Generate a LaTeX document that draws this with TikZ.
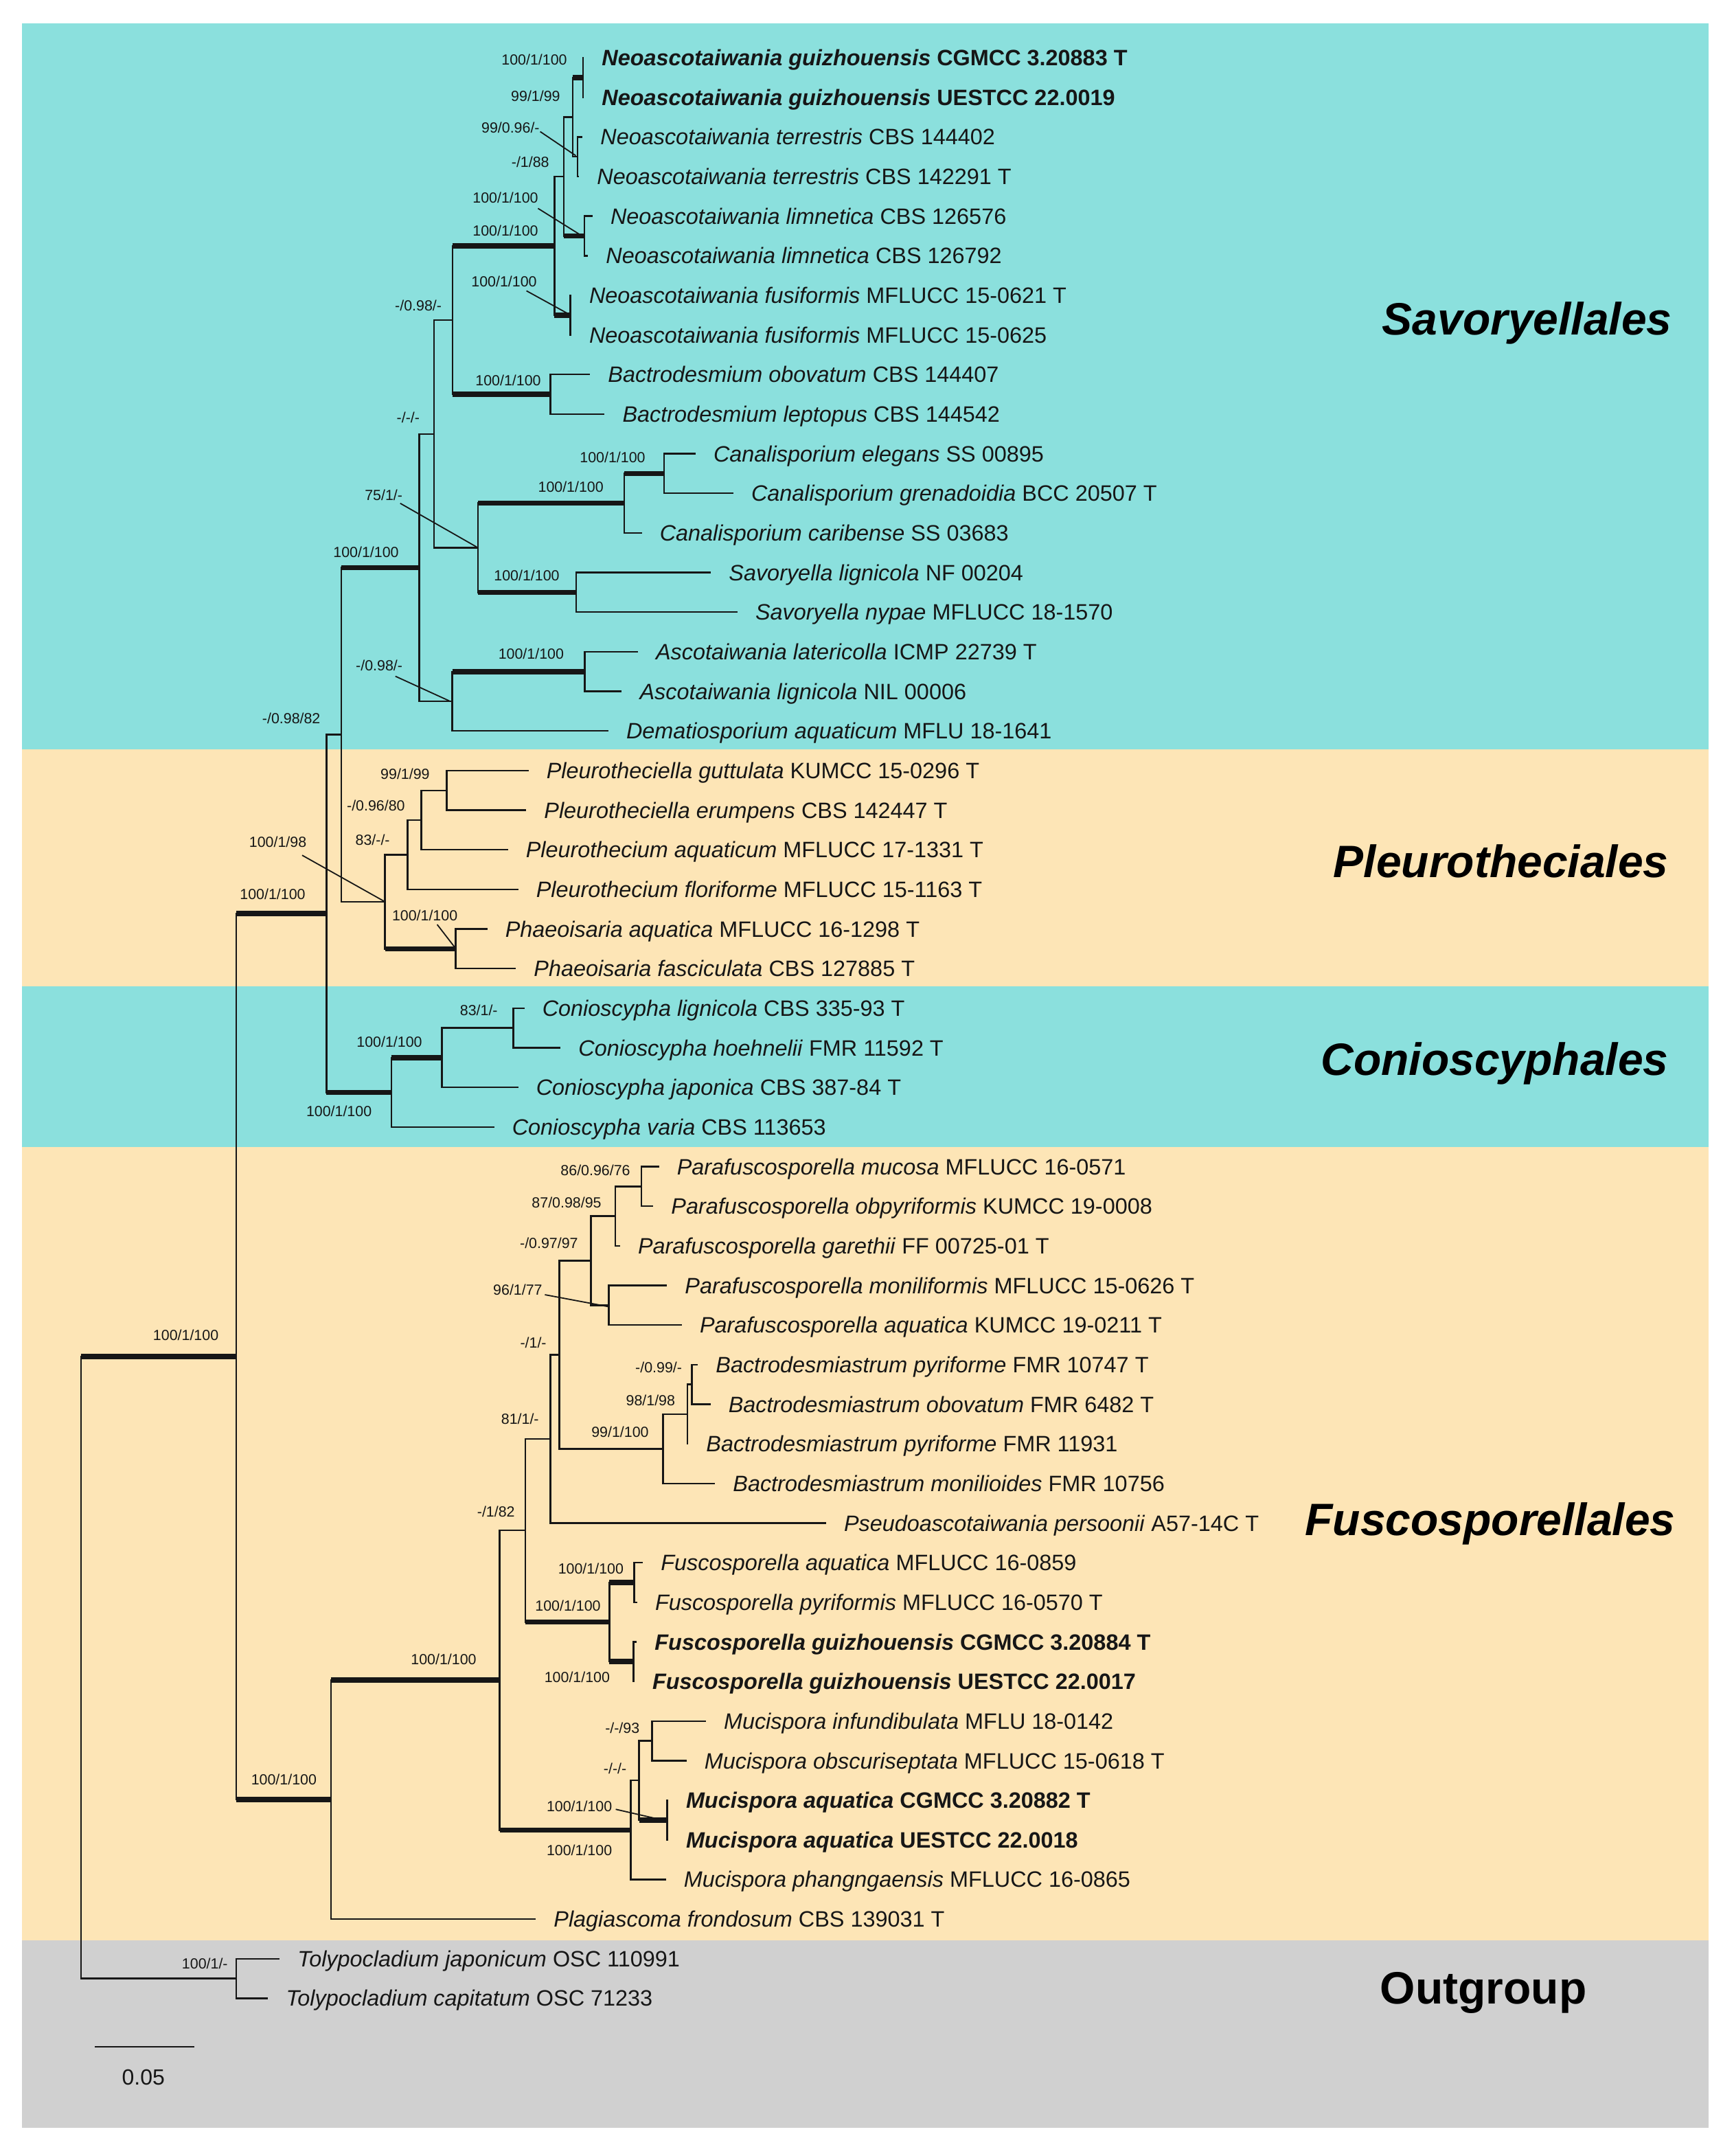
\documentclass[tikz,border=0pt]{standalone}
\usepackage{fontspec}
\setmainfont{Liberation Sans}
\definecolor{bgteal}{RGB}{139,224,221}
\definecolor{bgorange}{RGB}{253,229,182}
\definecolor{bggrey}{RGB}{208,208,208}
\definecolor{ink}{RGB}{22,22,22}
\newcommand{\cbar}[3]{\draw[tb] (#1 |- #2) -- (#1 |- #3);}
\newcommand{\hbr}[3][tb]{\draw[#1] (#2 |- #3) -- (#3);}
\newcommand{\pair}[3]{\cbar{#1}{#2}{#3}\hbr{#1}{#2}\hbr{#1}{#3}}
\newcommand{\mytip}[4]{\coordinate (tp#1) at (#2,#3); \node[taxon] (tx#1) at ([xshift=13.5pt,yshift=-5.8pt]tp#1) {#4};}
\newcommand{\bs}[4]{\node[suplab] (#1) at (#2,#3) {#4};}
\begin{document}
\begin{tikzpicture}[x=1pt,y=-1pt,
  tb/.style={draw=ink,line width=1.2pt,line cap=rect},
  kb/.style={draw=ink,line width=3.8pt},
  ldr/.style={draw=ink,line width=0.9pt},
  taxon/.style={font=\fontsize{16.2}{19}\selectfont,text=ink,inner sep=0pt,anchor=base west},
  suplab/.style={font=\fontsize{10.7}{12}\selectfont,text=ink,inner sep=0pt,anchor=base east},
  ord/.style={font=\fontsize{33}{38}\selectfont\bfseries,text=black,inner sep=0pt,anchor=base east}]
\useasboundingbox (0,0) rectangle (1262,1569.5);
\fill[white] (0,0) rectangle (1262,1569.5);
% background bands
\fill[bgteal] (16,17) rectangle (1244,545.5);
\fill[bgorange] (16,545.5) rectangle (1244,718);
\fill[bgteal] (16,718) rectangle (1244,835);
\fill[bgorange] (16,835) rectangle (1244,1412.5);
\fill[bggrey] (16,1412.5) rectangle (1244,1549);

% tips and taxon names
\mytip{1}{424.5}{42.00}{\textbf{\textit{Neoascotaiwania guizhouensis} CGMCC 3.20883 T}}
\mytip{2}{424.5}{70.83}{\textbf{\textit{Neoascotaiwania guizhouensis} UESTCC 22.0019}}
\mytip{3}{423.5}{99.66}{\textit{Neoascotaiwania terrestris} CBS 144402}
\mytip{4}{421.0}{128.49}{\textit{Neoascotaiwania terrestris} CBS 142291 T}
\mytip{5}{430.8}{157.32}{\textit{Neoascotaiwania limnetica} CBS 126576}
\mytip{6}{427.5}{186.15}{\textit{Neoascotaiwania limnetica} CBS 126792}
\mytip{7}{415.3}{214.98}{\textit{Neoascotaiwania fusiformis} MFLUCC 15-0621 T}
\mytip{8}{415.3}{243.81}{\textit{Neoascotaiwania fusiformis} MFLUCC 15-0625}
\mytip{9}{429.0}{272.64}{\textit{Bactrodesmium obovatum} CBS 144407}
\mytip{10}{439.6}{301.47}{\textit{Bactrodesmium leptopus} CBS 144542}
\mytip{11}{505.8}{330.30}{\textit{Canalisporium elegans} SS 00895}
\mytip{12}{533.3}{359.13}{\textit{Canalisporium grenadoidia} BCC 20507 T}
\mytip{13}{466.7}{387.96}{\textit{Canalisporium caribense} SS 03683}
\mytip{14}{517.0}{416.79}{\textit{Savoryella lignicola} NF 00204}
\mytip{15}{536.3}{445.62}{\textit{Savoryella nypae} MFLUCC 18-1570}
\mytip{16}{463.8}{474.45}{\textit{Ascotaiwania latericolla} ICMP 22739 T}
\mytip{17}{452.1}{503.28}{\textit{Ascotaiwania lignicola} NIL 00006}
\mytip{18}{442.3}{532.11}{\textit{Dematiosporium aquaticum} MFLU 18-1641}
\mytip{19}{384.2}{560.94}{\textit{Pleurotheciella guttulata} KUMCC 15-0296 T}
\mytip{20}{382.5}{589.77}{\textit{Pleurotheciella erumpens} CBS 142447 T}
\mytip{21}{369.2}{618.60}{\textit{Pleurothecium aquaticum} MFLUCC 17-1331 T}
\mytip{22}{376.7}{647.43}{\textit{Pleurothecium floriforme} MFLUCC 15-1163 T}
\mytip{23}{354.2}{676.26}{\textit{Phaeoisaria aquatica} MFLUCC 16-1298 T}
\mytip{24}{375.0}{705.09}{\textit{Phaeoisaria fasciculata} CBS 127885 T}
\mytip{25}{381.2}{733.92}{\textit{Conioscypha lignicola} CBS 335-93 T}
\mytip{26}{407.5}{762.75}{\textit{Conioscypha hoehnelii} FMR 11592 T}
\mytip{27}{376.7}{791.58}{\textit{Conioscypha japonica} CBS 387-84 T}
\mytip{28}{359.2}{820.41}{\textit{Conioscypha varia} CBS 113653}
\mytip{29}{479.2}{849.24}{\textit{Parafuscosporella mucosa} MFLUCC 16-0571}
\mytip{30}{475.0}{878.07}{\textit{Parafuscosporella obpyriformis} KUMCC 19-0008}
\mytip{31}{450.8}{906.90}{\textit{Parafuscosporella garethii} FF 00725-01 T}
\mytip{32}{485.0}{935.73}{\textit{Parafuscosporella moniliformis} MFLUCC 15-0626 T}
\mytip{33}{495.8}{964.56}{\textit{Parafuscosporella aquatica} KUMCC 19-0211 T}
\mytip{34}{507.5}{993.39}{\textit{Bactrodesmiastrum pyriforme} FMR 10747 T}
\mytip{35}{516.7}{1022.22}{\textit{Bactrodesmiastrum obovatum} FMR 6482 T}
\mytip{36}{500.5}{1051.05}{\textit{Bactrodesmiastrum pyriforme} FMR 11931}
\mytip{37}{520.0}{1079.88}{\textit{Bactrodesmiastrum monilioides} FMR 10756}
\mytip{38}{600.8}{1108.71}{\textit{Pseudoascotaiwania persoonii} A57-14C T}
\mytip{39}{467.5}{1137.54}{\textit{Fuscosporella aquatica} MFLUCC 16-0859}
\mytip{40}{463.3}{1166.37}{\textit{Fuscosporella pyriformis} MFLUCC 16-0570 T}
\mytip{41}{463.0}{1195.20}{\textbf{\textit{Fuscosporella guizhouensis} CGMCC 3.20884 T}}
\mytip{42}{461.3}{1224.03}{\textbf{\textit{Fuscosporella guizhouensis} UESTCC 22.0017}}
\mytip{43}{513.3}{1252.86}{\textit{Mucispora infundibulata} MFLU 18-0142}
\mytip{44}{499.2}{1281.69}{\textit{Mucispora obscuriseptata} MFLUCC 15-0618 T}
\mytip{45}{485.8}{1310.52}{\textbf{\textit{Mucispora aquatica} CGMCC 3.20882 T}}
\mytip{46}{485.8}{1339.35}{\textbf{\textit{Mucispora aquatica} UESTCC 22.0018}}
\mytip{47}{484.2}{1368.18}{\textit{Mucispora phangngaensis} MFLUCC 16-0865}
\mytip{48}{389.5}{1397.01}{\textit{Plagiascoma frondosum} CBS 139031 T}
\mytip{49}{203.0}{1425.84}{\textit{Tolypocladium japonicum} OSC 110991}
\mytip{50}{194.6}{1454.67}{\textit{Tolypocladium capitatum} OSC 71233}

% internal nodes
\coordinate (r) at (58.9,1213.9);
\coordinate (o) at (172,987.535);
\coordinate (u) at (172,1440.255);
\coordinate (n) at (237.7,665.0);
\coordinate (k) at (248.5,534.815);
\coordinate (s) at (241.1,1310.07);
\coordinate (t) at (363.8,1223.13);
\coordinate (sf) at (305.2,413.19);
\coordinate (se) at (315.9,315.885);
\coordinate (sd) at (329.5,233.0);
\coordinate (sc) at (403.7,178.94);
\coordinate (sb) at (410.5,128.49);
\coordinate (sa) at (417,85.245);
\coordinate (sguiz) at (424.5,56.415);
\coordinate (sterr) at (420.5,114.075);
\coordinate (slimn) at (425.5,171.735);
\coordinate (sfusi) at (415.3,229.395);
\coordinate (sbac) at (400.7,287.055);
\coordinate (sg) at (348,398.77);
\coordinate (sh) at (454.5,366.34);
\coordinate (si) at (483.4,344.715);
\coordinate (sj) at (419.5,431.205);
\coordinate (sm) at (329.3,510.49);
\coordinate (sl) at (425.7,488.865);
\coordinate (p1) at (325.3,575.355);
\coordinate (p2) at (306.7,596.98);
\coordinate (p3) at (296.7,622.205);
\coordinate (p4) at (280.3,656.44);
\coordinate (p5) at (331.7,690.675);
\coordinate (c1) at (285,795.185);
\coordinate (c2) at (321.7,769.96);
\coordinate (c3) at (373.7,748.335);
\coordinate (q1) at (467,863.655);
\coordinate (q2) at (448,885.28);
\coordinate (q3) at (430.3,917.71);
\coordinate (q4) at (443.3,950.145);
\coordinate (q5) at (407.2,986.18);
\coordinate (q6) at (400.8,1047.445);
\coordinate (q7) at (382.5,1114.115);
\coordinate (b1) at (503.7,1007.805);
\coordinate (b2) at (500.5,1029.43);
\coordinate (b3) at (482.8,1054.655);
\coordinate (f1) at (443.7,1180.785);
\coordinate (f2) at (461.7,1151.955);
\coordinate (f3) at (461.3,1209.615);
\coordinate (m1) at (459.2,1332.14);
\coordinate (m2) at (465.3,1296.105);
\coordinate (m3) at (474.7,1267.275);
\coordinate (m4) at (485.8,1324.935);

% branches
\cbar{r}{o}{u} \hbr[kb]{r}{o} \hbr{r}{u}
\pair{u}{tp49}{tp50}
\cbar{o}{n}{s} \hbr[kb]{o}{n} \hbr[kb]{o}{s}
\cbar{n}{k}{c1} \hbr{n}{k} \hbr[kb]{n}{c1}
\cbar{k}{sf}{p4} \hbr[kb]{k}{sf} \hbr{k}{p4}
\cbar{sf}{se}{sm} \hbr{sf}{se} \hbr{sf}{sm}
\cbar{se}{sd}{sg} \hbr{se}{sd} \hbr{se}{sg}
\cbar{sd}{sc}{sbac} \hbr[kb]{sd}{sc} \hbr[kb]{sd}{sbac}
\cbar{sc}{sb}{sfusi} \hbr{sc}{sb} \hbr[kb]{sc}{sfusi}
\cbar{sb}{sa}{slimn} \hbr{sb}{sa} \hbr[kb]{sb}{slimn}
\cbar{sa}{sguiz}{sterr} \hbr[kb]{sa}{sguiz} \hbr{sa}{sterr}
\pair{sguiz}{tp1}{tp2}
\pair{sterr}{tp3}{tp4}
\pair{slimn}{tp5}{tp6}
\pair{sfusi}{tp7}{tp8}
\pair{sbac}{tp9}{tp10}
\cbar{sg}{sh}{sj} \hbr[kb]{sg}{sh} \hbr[kb]{sg}{sj}
\cbar{sh}{si}{tp13} \hbr[kb]{sh}{si} \hbr{sh}{tp13}
\pair{si}{tp11}{tp12}
\pair{sj}{tp14}{tp15}
\cbar{sm}{sl}{tp18} \hbr[kb]{sm}{sl} \hbr{sm}{tp18}
\pair{sl}{tp16}{tp17}
\cbar{p4}{p3}{p5} \hbr{p4}{p3} \hbr[kb]{p4}{p5}
\cbar{p3}{p2}{tp22} \hbr{p3}{p2} \hbr{p3}{tp22}
\cbar{p2}{p1}{tp21} \hbr{p2}{p1} \hbr{p2}{tp21}
\pair{p1}{tp19}{tp20}
\pair{p5}{tp23}{tp24}
\cbar{c1}{c2}{tp28} \hbr[kb]{c1}{c2} \hbr{c1}{tp28}
\cbar{c2}{c3}{tp27} \hbr{c2}{c3} \hbr{c2}{tp27}
\pair{c3}{tp25}{tp26}
\cbar{s}{t}{tp48} \hbr[kb]{s}{t} \hbr{s}{tp48}
\cbar{t}{q7}{m1} \hbr{t}{q7} \hbr[kb]{t}{m1}
\cbar{q7}{q6}{f1} \hbr{q7}{q6} \hbr[kb]{q7}{f1}
\cbar{q6}{q5}{tp38} \hbr{q6}{q5} \hbr{q6}{tp38}
\cbar{q5}{q3}{b3} \hbr{q5}{q3} \hbr{q5}{b3}
\cbar{q3}{q2}{q4} \hbr{q3}{q2} \hbr{q3}{q4}
\cbar{q2}{q1}{tp31} \hbr{q2}{q1} \hbr{q2}{tp31}
\pair{q1}{tp29}{tp30}
\pair{q4}{tp32}{tp33}
\cbar{b3}{b2}{tp37} \hbr{b3}{b2} \hbr{b3}{tp37}
\cbar{b2}{b1}{tp36} \hbr{b2}{b1} \hbr{b2}{tp36}
\pair{b1}{tp34}{tp35}
\cbar{f1}{f2}{f3} \hbr[kb]{f1}{f2} \hbr[kb]{f1}{f3}
\pair{f2}{tp39}{tp40}
\pair{f3}{tp41}{tp42}
\cbar{m1}{m2}{tp47} \hbr{m1}{m2} \hbr{m1}{tp47}
\cbar{m2}{m3}{m4} \hbr{m2}{m3} \hbr[kb]{m2}{m4}
\pair{m3}{tp43}{tp44}
\pair{m4}{tp45}{tp46}

% support values
\bs{l1}{413}{47.4}{100/1/100}
\bs{l2}{408}{73.9}{99/1/99}
\bs{l3}{393}{96.9}{99/0.96/-}
\bs{l4}{400}{121.9}{-/1/88}
\bs{l5}{392}{147.9}{100/1/100}
\bs{l6}{392}{171.9}{100/1/100}
\bs{l7}{391}{208.9}{100/1/100}
\bs{l8}{321.7}{226.4}{-/0.98/-}
\bs{l9}{394}{280.7}{100/1/100}
\bs{l10}{305.7}{307.9}{-/-/-}
\bs{l11}{470}{336.8}{100/1/100}
\bs{l12}{439.6}{358.2}{100/1/100}
\bs{l13}{293.2}{364.1}{75/1/-}
\bs{l14}{290.5}{405.9}{100/1/100}
\bs{l15}{407.5}{422.9}{100/1/100}
\bs{l16}{410.7}{479.9}{100/1/100}
\bs{l17}{293.2}{488.2}{-/0.98/-}
\bs{l18}{233.4}{526.6}{-/0.98/82}
\bs{l19}{313}{567.2}{99/1/99}
\bs{l20}{295}{590.2}{-/0.96/80}
\bs{l21}{284}{615.1}{83/-/-}
\bs{l22}{223.3}{616.6}{100/1/98}
\bs{l23}{333.3}{670.2}{100/1/100}
\bs{l24}{222.5}{654.5}{100/1/100}
\bs{l25}{362.5}{739.4}{83/1/-}
\bs{l26}{307.5}{762.0}{100/1/100}
\bs{l27}{270.8}{812.7}{100/1/100}
\bs{l28}{459}{855.7}{86/0.96/76}
\bs{l29}{438}{879.4}{87/0.98/95}
\bs{l30}{421}{908.9}{-/0.97/97}
\bs{l31}{395}{942.8}{96/1/77}
\bs{l32}{398}{981.2}{-/1/-}
\bs{l33}{496.7}{999.1}{-/0.99/-}
\bs{l34}{491.7}{1023.2}{98/1/98}
\bs{l35}{472.5}{1046.4}{99/1/100}
\bs{l36}{392.5}{1036.6}{81/1/-}
\bs{l37}{375}{1104.4}{-/1/82}
\bs{l38}{454.2}{1145.5}{100/1/100}
\bs{l39}{437.5}{1172.8}{100/1/100}
\bs{l40}{444.2}{1224.6}{100/1/100}
\bs{l41}{347}{1211.9}{100/1/100}
\bs{l42}{465.8}{1261.6}{-/-/93}
\bs{l43}{456.3}{1291.4}{-/-/-}
\bs{l44}{445.8}{1318.7}{100/1/100}
\bs{l45}{445.8}{1350.9}{100/1/100}
\bs{l46}{230.7}{1299.4}{100/1/100}
\bs{l47}{159.3}{975.7}{100/1/100}
\bs{l48}{166}{1433.2}{100/1/-}

% leader lines
\coordinate (ls3) at (393.3,95.8);   \coordinate (le3) at (419.2,113.3);
\coordinate (ls5) at (391.7,151.7);  \coordinate (le5) at (425,172.5);
\coordinate (ls7) at (383.3,211.7);  \coordinate (le7) at (414.2,228.7);
\coordinate (ls13) at (291.4,366.4); \coordinate (le13) at (347.1,398.2);
\coordinate (ls17) at (287.9,492.3); \coordinate (le17) at (327.1,510.2);
\coordinate (ls22) at (220,622.6);   \coordinate (le22) at (279.7,656.1);
\coordinate (ls23) at (318.3,673);   \coordinate (le23) at (330.8,689.2);
\coordinate (ls31) at (396.7,942.5); \coordinate (le31) at (442.5,951.1);
\coordinate (ls44) at (448.3,1317.1);\coordinate (le44) at (485,1325.5);
\foreach \i in {3,5,7,13,17,22,23,31,44} {\draw[ldr] (ls\i) -- (le\i);}

% order labels
\node[ord] (oSav) at (1217.5,243.5) {\itshape Savoryellales};
\node[ord] (oPle) at (1215,638.5) {\itshape Pleurotheciales};
\node[ord] (oCon) at (1215,782.5) {\itshape Conioscyphales};
\node[ord] (oFus) at (1220,1117.5) {\itshape Fuscosporellales};
\node[ord,anchor=base] (oOut) at (1080,1458.5) {Outgroup};

% scale bar
\coordinate (sb1) at (69.5,1490);
\coordinate (sb2) at (141.1,1490);
\draw[tb] (sb1) -- (sb2);
\node[font=\fontsize{16}{19}\selectfont,text=ink,inner sep=0pt,anchor=base] (sbl) at (104.4,1517.6) {0.05};
\end{tikzpicture}
\end{document}
